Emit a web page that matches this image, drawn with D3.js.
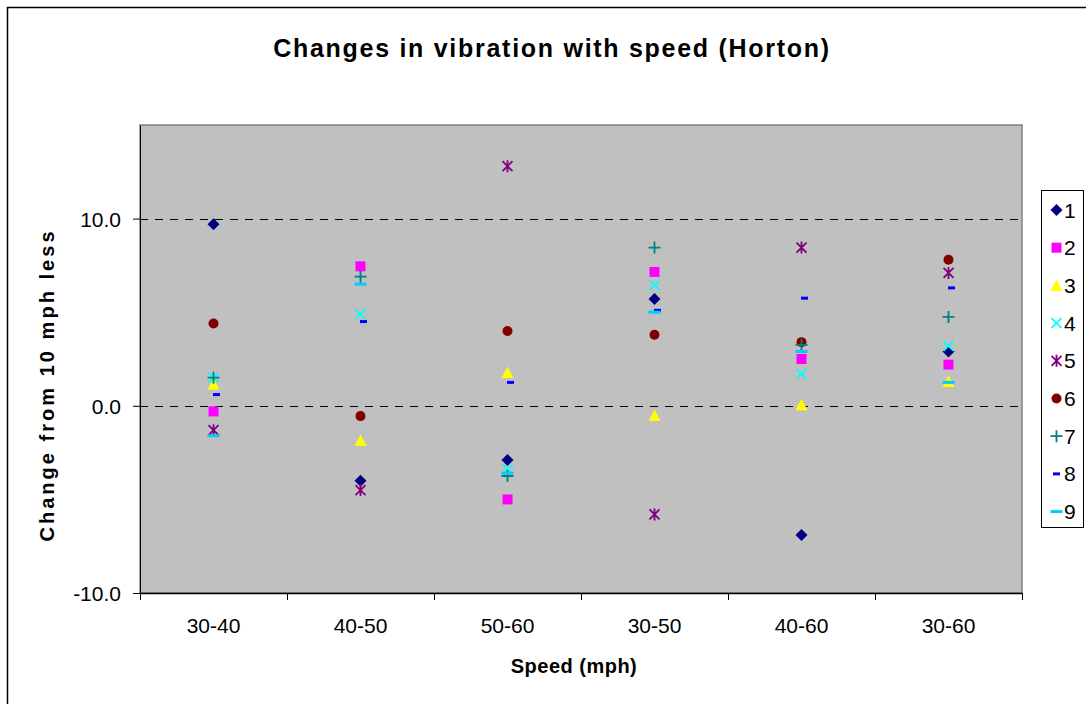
<!DOCTYPE html>
<html>
<head>
<meta charset="utf-8">
<script src="https://cdn.jsdelivr.net/npm/d3@7"></script>
<style>
  html, body { margin: 0; padding: 0; background: #fff; }
  svg { display: block; font-family: "Liberation Sans", Arial, sans-serif; }
</style>
</head>
<body>
<svg id="chart" width="1086" height="704"></svg>
<script>
// ---- data ----
const categories = ["30-40", "40-50", "50-60", "30-50", "40-60", "30-60"];
const seriesNames = ["1", "2", "3", "4", "5", "6", "7", "8", "9"];
const s1 = [9.7, -4.0, -2.9, 5.7, -6.9, 2.9];
const s2 = [-0.3, 7.45, -5.0, 7.15, 2.5, 2.2];
const s3 = [1.15, -1.85, 1.78, -0.52, 0.05, 1.3];
const s4 = [1.5, 4.9, -3.4, 6.45, 1.7, 3.2];
const s5 = [-1.3, -4.5, 12.8, -5.8, 8.45, 7.1];
const s6 = [4.4, -0.55, 4.0, 3.8, 3.4, 7.8];
const s7 = [1.5, 6.9, -3.75, 8.45, 3.25, 4.75];
const s8 = [0.6, 4.5, 1.25, 5.1, 5.75, 6.3];
const s9 = [-1.6, 6.5, -3.6, 5.0, 2.9, 1.25];
const yTicks = [-10, 0, 10];
const yTickLabels = ["-10.0", "0.0", "10.0"];
const titleText = "Changes in vibration with speed (Horton)";
const xTitle = "Speed (mph)";
const yTitle = "Change from 10 mph less";

const seriesValues = [s1, s2, s3, s4, s5, s6, s7, s8, s9];
const colors = ["#000080", "#FF00FF", "#FFFF00", "#00FFFF", "#800080", "#800000", "#008080", "#0000FF", "#00CCFF"];
const shapes = ["diamond", "square", "triangle", "x", "star", "circle", "plus", "shortdash", "longdash"];

// ---- layout ----
const svg = d3.select("#chart");
const plot = { left: 140, top: 125, right: 1022, bottom: 593 };

const x = d3.scaleBand().domain(categories).range([plot.left, plot.right]).padding(0);
const y = d3.scaleLinear().domain([-10, 15]).range([plot.bottom, plot.top]);

// chart area border
svg.append("rect").attr("x", 7.5).attr("y", 7.5).attr("width", 1100).attr("height", 720)
  .attr("fill", "#fff").attr("stroke", "#000").attr("stroke-width", 1.5);

// plot area
svg.append("rect").attr("x", plot.left).attr("y", plot.top)
  .attr("width", plot.right - plot.left).attr("height", plot.bottom - plot.top)
  .attr("fill", "#C0C0C0").attr("stroke", "#808080").attr("stroke-width", 1.5);

// gridlines
svg.append("g").selectAll("line").data(yTicks.filter(d => d > -10)).join("line")
  .attr("x1", plot.left).attr("x2", plot.right)
  .attr("y1", d => Math.round(y(d)) + 0.5).attr("y2", d => Math.round(y(d)) + 0.5)
  .attr("stroke", "#000").attr("stroke-width", 1).attr("stroke-dasharray", "8,7");

// y axis
const yAxis = d3.axisLeft(y).tickValues(yTicks).tickSize(7).tickSizeOuter(0).tickPadding(12)
  .tickFormat((d, i) => yTickLabels[i]);
const gy = svg.append("g").attr("transform", `translate(${plot.left},0)`).call(yAxis);
gy.select(".domain").attr("stroke", "#000").attr("stroke-width", 1);
gy.selectAll(".tick line").attr("stroke", "#000");
gy.selectAll(".tick text").attr("font-size", 21).attr("fill", "#000").attr("dy", "0.36em")
  .attr("font-family", "Liberation Sans, Arial, sans-serif");

// x axis
const xAxis = d3.axisBottom(x).tickSize(0).tickSizeOuter(0).tickPadding(0);
const gx = svg.append("g").attr("transform", `translate(0,${plot.bottom})`).call(xAxis);
gx.select(".domain").attr("stroke", "#000").attr("stroke-width", 1.5);
gx.selectAll(".tick text").attr("font-size", 21).attr("fill", "#000").attr("y", 40).attr("dy", 0)
  .attr("font-family", "Liberation Sans, Arial, sans-serif");
// category boundary ticks
const bounds = categories.map(c => x(c)).concat([x(categories[categories.length - 1]) + x.bandwidth()]);
svg.append("g").selectAll("line").data(bounds).join("line")
  .attr("x1", d => Math.round(d) + 0.5).attr("x2", d => Math.round(d) + 0.5)
  .attr("y1", plot.bottom).attr("y2", plot.bottom + 7)
  .attr("stroke", "#000").attr("stroke-width", 1);

// ---- marker paths ----
function markerPath(shape) {
  switch (shape) {
    case "diamond": return "M0,-6L6,0L0,6L-6,0Z";
    case "square": return "M-5,-5H5V5H-5Z";
    case "triangle": return "M0,-6L6,5.5H-6Z";
    case "x": return "M-5,-5L5,5M5,-5L-5,5";
    case "star": return "M-5,-5L5,5M5,-5L-5,5M0,-6V6";
    case "circle": return "M5,0A5,5 0 1,1 -5,0A5,5 0 1,1 5,0Z";
    case "plus": return "M-6,0H6M0,-6V6";
    case "shortdash": return "M-3.5,-1.5H3.5V1.5H-3.5Z";
    case "longdash": return "M-6,-1.5H6V1.5H-6Z";
  }
}
function isStroke(shape) { return shape === "x" || shape === "star" || shape === "plus"; }
function drawMarker(g, shape, color) {
  const p = g.append("path").attr("d", markerPath(shape));
  if (isStroke(shape)) p.attr("fill", "none").attr("stroke", color).attr("stroke-width", 1.8);
  else p.attr("fill", color).attr("stroke", "none");
}

// points
seriesValues.forEach((vals, i) => {
  const dx = shapes[i] === "shortdash" ? 3 : 0;
  const g = svg.append("g").attr("class", "series-" + (i + 1));
  vals.forEach((v, j) => {
    const mg = g.append("g").attr("transform",
      `translate(${x(categories[j]) + x.bandwidth() / 2 + dx},${y(v)})`);
    drawMarker(mg, shapes[i], colors[i]);
  });
});

// ---- legend ----
const leg = { x: 1041, y: 190, w: 42, h: 337 };
svg.append("rect").attr("x", leg.x + 0.5).attr("y", leg.y + 0.5).attr("width", leg.w).attr("height", leg.h)
  .attr("fill", "#fff").attr("stroke", "#000").attr("stroke-width", 1);
const legStep = 37.7;
seriesNames.forEach((name, i) => {
  const cy = 210 + i * legStep;
  const mg = svg.append("g").attr("transform", `translate(1056.5,${cy})`);
  drawMarker(mg, shapes[i], colors[i]);
  svg.append("text").attr("x", 1064).attr("y", cy + 7.5).attr("font-size", 21).attr("fill", "#000").text(name);
});

// ---- titles ----
function fitText(sel, target) {
  const n = sel.text().length;
  const w = sel.node().getComputedTextLength();
  sel.attr("letter-spacing", ((target - w) / (n - 1)).toFixed(2));
}
const t = svg.append("text").attr("x", 552).attr("y", 57).attr("text-anchor", "middle")
  .attr("font-size", 25).attr("font-weight", "bold").attr("fill", "#000").text(titleText);
fitText(t, 556);

const xt = svg.append("text").attr("x", 574).attr("y", 673).attr("text-anchor", "middle")
  .attr("font-size", 20).attr("font-weight", "bold").attr("fill", "#000").text(xTitle);
fitText(xt, 126);

const yt = svg.append("text").attr("transform", "translate(54,385) rotate(-90)").attr("text-anchor", "middle")
  .attr("font-size", 20).attr("font-weight", "bold").attr("fill", "#000").text(yTitle);
fitText(yt, 310);
</script>
</body>
</html>
